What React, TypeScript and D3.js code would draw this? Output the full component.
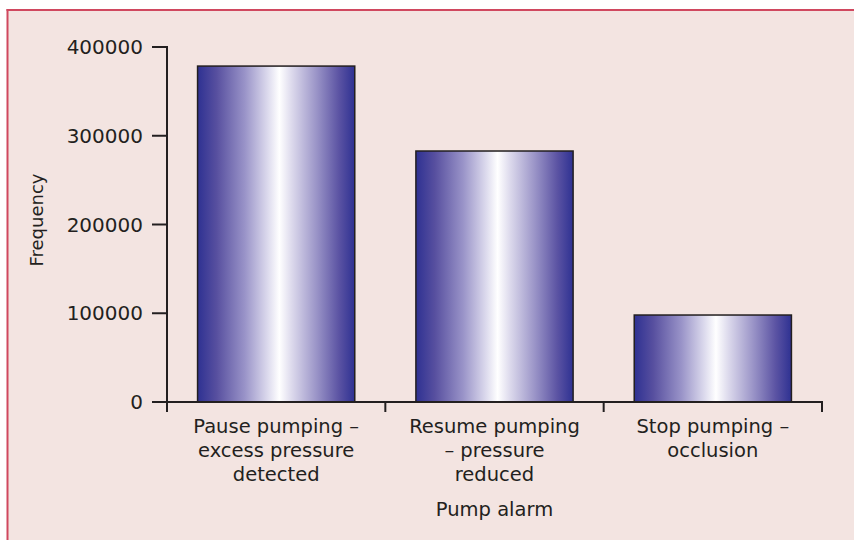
import React from "react";
import * as d3 from "d3";

const categories: string[][] = [
  ["Pause pumping –", "excess pressure", "detected"],
  ["Resume pumping", "– pressure", "reduced"],
  ["Stop pumping –", "occlusion"],
];
const values: number[] = [378500, 282800, 98000];
const yTicks: number[] = [0, 100000, 200000, 300000, 400000];

const W = 854;
const H = 540;
const FONT = "'DejaVu Sans', 'Open Sans', sans-serif";
const INK = "#231f20";

export default function App() {
  const x0 = 167, x1 = 822, y0 = 402, y1 = 47;
  const x = d3.scaleBand<number>().domain(d3.range(values.length)).range([x0, x1]).paddingInner(0.28).paddingOuter(0.14);
  const xb = d3.scaleBand<number>().domain(d3.range(values.length)).range([x0, x1]);
  const y = d3.scaleLinear().domain([0, 400000]).range([y0, y1]);
  const bounds = [...d3.range(values.length).map((i) => xb(i) as number), x1];

  return (
    <svg width={W} height={H} style={{ position: "absolute", left: 0, top: 0 }}>
      <defs>
        <linearGradient id="barGrad" x1="0" x2="1" y1="0" y2="0">
          <stop offset="0" stopColor="#2e3192" />
          <stop offset="0.12" stopColor="#574f9f" />
          <stop offset="0.3" stopColor="#9993c8" />
          <stop offset="0.45" stopColor="#dedcee" />
          <stop offset="0.52" stopColor="#ffffff" />
          <stop offset="0.6" stopColor="#dcd9ec" />
          <stop offset="0.75" stopColor="#9d97c9" />
          <stop offset="0.9" stopColor="#5b53a3" />
          <stop offset="1" stopColor="#2e3192" />
        </linearGradient>
      </defs>
      <rect x={0} y={0} width={W} height={H} fill="#ffffff" />
      <rect x={8} y={10} width={W - 8} height={H - 10} fill="#f3e4e1" />
      <line x1={6.5} x2={W} y1={10} y2={10} stroke="#d0485f" strokeWidth={2} />
      <line x1={7.5} x2={7.5} y1={9} y2={H} stroke="#d0485f" strokeWidth={2} />

      {values.map((v, i) => (
        <rect
          key={i}
          x={x(i)}
          y={y(v)}
          width={x.bandwidth()}
          height={y0 - y(v)}
          fill="url(#barGrad)"
          stroke={INK}
          strokeWidth={1.5}
        />
      ))}

      {/* y axis */}
      <line x1={x0} x2={x0} y1={y1 - 1} y2={y0 + 9} stroke={INK} strokeWidth={2} />
      {yTicks.map((t) => (
        <g key={t}>
          <line x1={x0 - 15} x2={x0} y1={y(t)} y2={y(t)} stroke={INK} strokeWidth={2} />
          <text x={x0 - 24} y={y(t)} dy="0.36em" textAnchor="end" fontFamily={FONT} fontSize={20} fill={INK}>
            {t}
          </text>
        </g>
      ))}

      {/* x axis */}
      <line x1={x0 - 1} x2={x1 + 1} y1={y0} y2={y0} stroke={INK} strokeWidth={2} />
      {bounds.map((b, i) => (
        <line key={i} x1={b} x2={b} y1={y0} y2={y0 + 10} stroke={INK} strokeWidth={2} />
      ))}
      {categories.map((lines, i) =>
        lines.map((l, j) => (
          <text
            key={`${i}-${j}`}
            x={(xb(i) as number) + xb.bandwidth() / 2}
            y={433 + j * 24}
            textAnchor="middle"
            fontFamily={FONT}
            fontSize={19.5}
            fill={INK}
          >
            {l}
          </text>
        ))
      )}
      <text x={(x0 + x1) / 2} y={516} textAnchor="middle" fontFamily={FONT} fontSize={19.5} fill={INK}>
        Pump alarm
      </text>
      <text
        transform={`translate(43,220) rotate(-90)`}
        textAnchor="middle"
        fontFamily={FONT}
        fontSize={18}
        fill={INK}
      >
        Frequency
      </text>
    </svg>
  );
}
